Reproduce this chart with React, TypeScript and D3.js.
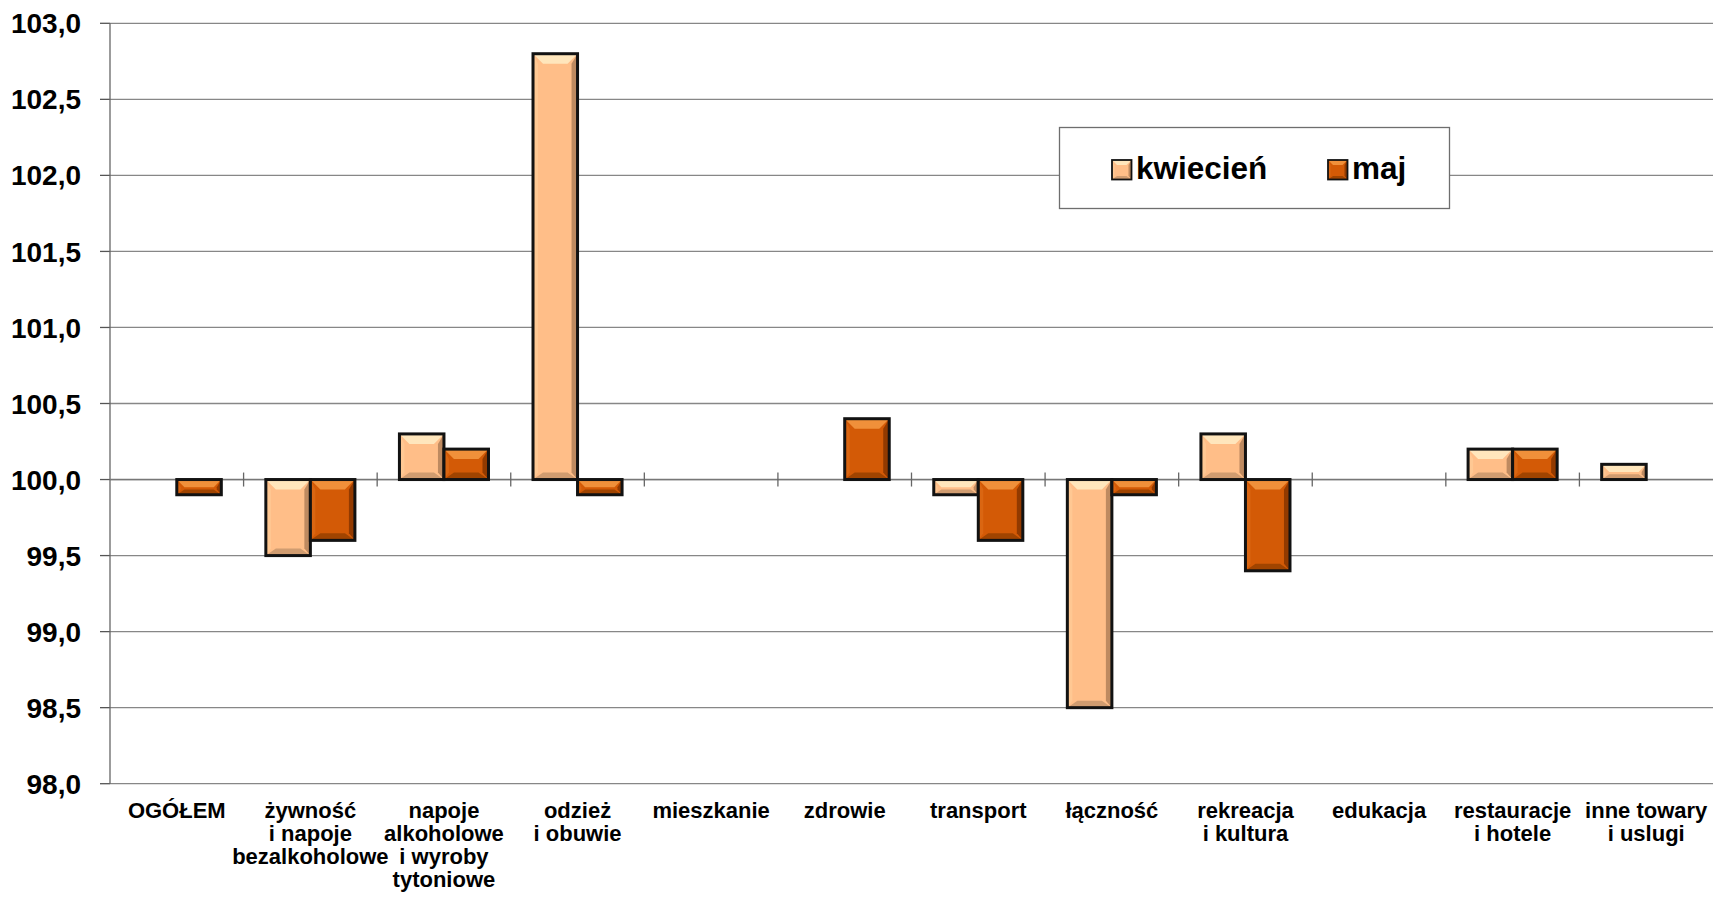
import React from "react";
import * as d3 from "d3";

const categories = ["OGÓŁEM", "żywność i napoje bezalkoholowe", "napoje alkoholowe i wyroby tytoniowe", "odzież i obuwie", "mieszkanie", "zdrowie", "transport", "łączność", "rekreacja i kultura", "edukacja", "restauracje i hotele", "inne towary i uslugi"];
const categoryLines = [
  ["OGÓŁEM"],
  ["żywność", "i napoje", "bezalkoholowe"],
  ["napoje", "alkoholowe", "i wyroby", "tytoniowe"],
  ["odzież", "i obuwie"],
  ["mieszkanie"],
  ["zdrowie"],
  ["transport"],
  ["łączność"],
  ["rekreacja", "i kultura"],
  ["edukacja"],
  ["restauracje", "i hotele"],
  ["inne towary", "i uslugi"],
];
const seriesNames = ["kwiecień", "maj"];
const kwiecien = [100.0, 99.5, 100.3, 102.8, 100.0, 100.0, 99.9, 98.5, 100.3, 100.0, 100.2, 100.1];
const maj = [99.9, 99.6, 100.2, 99.9, 100.0, 100.4, 99.6, 99.9, 99.4, 100.0, 100.2, 100.0];
const yTicks = [98.0, 98.5, 99.0, 99.5, 100.0, 100.5, 101.0, 101.5, 102.0, 102.5, 103.0];

const palettes = [
  { body: "#FFBE88", top: "#FFE6BC", left: "#FFC893", right: "#BE8A60", bottom: "#D09C70" },
  { body: "#D35A06", top: "#F0903A", left: "#DA6612", right: "#923A00", bottom: "#A04400" },
];

const W = 1713, H = 901;
const L = 110, R = 1713, T = 23.3, B = 783.7;
const FONT = "'Liberation Sans', Arial, sans-serif";

function BevelBar({ x, y, w, h, pal, sw = 3, maxB = 10 }) {
  if (h < 0.5) return null;
  const b = Math.min(maxB, h / 2, w / 2);
  const x1 = x + w, y1 = y + h;
  const pts = (a) => a.map((p) => p.join(",")).join(" ");
  return (
    <g>
      <rect x={x} y={y} width={w} height={h} fill={pal.body} />
      <polygon points={pts([[x, y], [x1, y], [x1 - b, y + b], [x + b, y + b]])} fill={pal.top} />
      <polygon points={pts([[x, y1], [x1, y1], [x1 - b, y1 - b * 0.7], [x + b, y1 - b * 0.7]])} fill={pal.bottom} />
      <polygon points={pts([[x1, y], [x1, y1], [x1 - b * 0.6, y1 - b * 0.7], [x1 - b * 0.6, y + b]])} fill={pal.right} />
      <polygon points={pts([[x, y], [x, y1], [x + b * 0.5, y1 - b * 0.7], [x + b * 0.5, y + b]])} fill={pal.left} />
      <rect x={x} y={y} width={w} height={h} fill="none" stroke="#121212" strokeWidth={sw} />
    </g>
  );
}

export default function App() {
  const x = d3.scaleBand().domain(categories).range([L, R]).paddingInner(0).paddingOuter(0);
  const xs = d3.scaleBand().domain(seriesNames).range([0, x.bandwidth()]).paddingInner(0).paddingOuter(0.5);
  const y = d3.scaleLinear().domain([98, 103]).range([B, T]);
  const y0 = y(100);
  const data = [kwiecien, maj];

  return (
    <svg width={W} height={H} style={{ position: "absolute", left: 0, top: 0, background: "#fff" }}>
      <rect x={0} y={0} width={W} height={H} fill="#fff" />
      {yTicks.map((t) => (
        <g key={t}>
          <line x1={L} x2={R} y1={y(t)} y2={y(t)} stroke="#878787" strokeWidth={1.3} />
          <line x1={L - 10} x2={L} y1={y(t)} y2={y(t)} stroke="#555" strokeWidth={1.3} />
          <text x={81} y={y(t)} dy="0.36em" textAnchor="end" fontFamily={FONT} fontWeight="bold" fontSize={28} fill="#000">
            {d3.format(".1f")(t).replace(".", ",")}
          </text>
        </g>
      ))}
      <line x1={L} x2={L} y1={T} y2={B} stroke="#666" strokeWidth={1.3} />
      <line x1={L} x2={R} y1={y0} y2={y0} stroke="#777" strokeWidth={1.6} />
      {categories.slice(1).map((c) => (
        <line key={c} x1={x(c)} x2={x(c)} y1={y0 - 7} y2={y0 + 7} stroke="#666" strokeWidth={1.3} />
      ))}
      {categories.map((c, i) =>
        seriesNames.map((s, si) => {
          const v = data[si][i];
          const bx = x(c) + xs(s);
          const top = Math.min(y(v), y0);
          const h = Math.abs(y(v) - y0);
          return <BevelBar key={c + s} x={bx} y={top} w={xs.bandwidth()} h={h} pal={palettes[si]} />;
        })
      )}
      {categories.map((c, i) => (
        <text key={c} x={x(c) + x.bandwidth() / 2} y={818} textAnchor="middle" fontFamily={FONT} fontWeight="bold" fontSize={22} fill="#000">
          {categoryLines[i].map((ln, li) => (
            <tspan key={li} x={x(c) + x.bandwidth() / 2} dy={li === 0 ? 0 : 23}>{ln}</tspan>
          ))}
        </text>
      ))}
      <g>
        <rect x={1059.5} y={127.5} width={390} height={81} fill="#fff" stroke="#6e6e6e" strokeWidth={1.3} />
        <BevelBar x={1112} y={160} w={19.5} h={19.5} pal={palettes[0]} sw={1.8} maxB={5} />
        <text x={1136} y={178.5} fontFamily={FONT} fontWeight="bold" fontSize={31.5} fill="#000">{seriesNames[0]}</text>
        <BevelBar x={1328} y={160} w={19.5} h={19.5} pal={palettes[1]} sw={1.8} maxB={5} />
        <text x={1352} y={178.5} fontFamily={FONT} fontWeight="bold" fontSize={31.5} fill="#000">{seriesNames[1]}</text>
      </g>
    </svg>
  );
}
